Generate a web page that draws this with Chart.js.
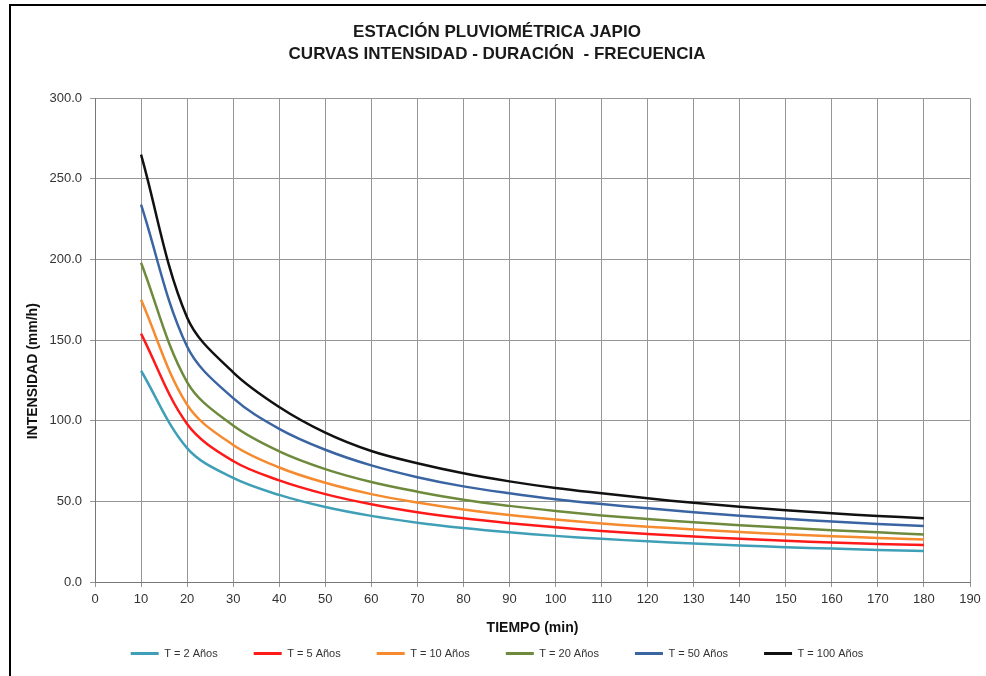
<!DOCTYPE html>
<html>
<head>
<meta charset="utf-8">
<title>Curvas IDF - Japio</title>
<script src="https://cdn.jsdelivr.net/npm/chart.js@4.4.1/dist/chart.umd.min.js"></script>
<style>
  html, body {
    margin: 0;
    padding: 0;
    background: #ffffff;
  }
  .wrap {
    position: relative;
    width: 986px;
    height: 676px;
    overflow: hidden;
  }
  .frame {
    position: absolute;
    left: 9px;
    top: 4px;
    right: -4px;
    bottom: -4px;
    border-left: 2px solid #000;
    border-top: 2px solid #000;
  }
  #idfChart {
    position: absolute;
    left: 0;
    top: 0;
  }
</style>
</head>
<body>
<div class="wrap">
  <div class="frame"></div>
  <canvas id="idfChart" width="986" height="676"></canvas>
</div>
<script>
// duraciones (min)
const durations = [10, 20, 30, 40, 50, 60, 70, 80, 90, 100, 110, 120, 130, 140, 150, 160, 170, 180];

// intensidades (mm/h)
const t2 = [131, 83, 64.5, 54, 46.5, 41, 36.8, 33.5, 30.8, 28.6, 26.8, 25.2, 23.9, 22.7, 21.6, 20.7, 19.9, 19.2];
const t5 = [154, 98, 75, 63, 54.5, 48.2, 43.3, 39.5, 36.5, 33.9, 31.7, 29.8, 28.2, 26.8, 25.6, 24.5, 23.6, 22.9];
const t10 = [175, 110, 85, 71, 61.5, 54.5, 49.3, 45, 41.5, 38.7, 36.3, 34.3, 32.6, 31, 29.6, 28.4, 27.3, 26.4];
const t20 = [198, 124, 97, 81, 70, 62, 56, 51, 47.2, 44, 41.3, 39, 37, 35.2, 33.6, 32.1, 30.8, 29.5];
const t50 = [234, 146, 114, 95, 82, 72.3, 65, 59.3, 55, 51.3, 48.3, 45.7, 43.3, 41.1, 39.2, 37.5, 36, 34.7];
const t100 = [265, 164, 130, 108.5, 92.6, 81.2, 73.6, 67.4, 62.4, 58.3, 55, 51.9, 49.1, 46.7, 44.5, 42.6, 41, 39.5];

const seriesLabels = ['T = 2 Años', 'T = 5 Años', 'T = 10 Años', 'T = 20 Años', 'T = 50 Años', 'T = 100 Años'];
const seriesValues = [t2, t5, t10, t20, t50, t100];
const seriesColors = ['#3E9FB6', '#FF1A1A', '#F58A2E', '#6E8B3D', '#3A64A2', '#111111'];

const xTicks = {min: 0, max: 190, step: 10};
const yTicks = {min: 0, max: 300, step: 50};

const GRID = '#969696';
const FONT = 'Arial, "Liberation Sans", sans-serif';

function toPoints(values) {
  return values.map((v, i) => ({x: durations[i], y: v}));
}

function buildDatasets() {
  return seriesLabels.map((label, i) => ({
    label: label,
    data: toPoints(seriesValues[i]),
    borderColor: seriesColors[i],
    backgroundColor: seriesColors[i],
    borderWidth: 2.5,
    pointRadius: 0,
    tension: 0.35,
    fill: false
  }));
}

const ctx = document.getElementById('idfChart').getContext('2d');

new Chart(ctx, {
  type: 'line',
  data: {
    datasets: buildDatasets()
  },
  options: {
    responsive: false,
    animation: false,
    layout: {
      padding: {left: 24, right: 16, top: 0, bottom: 7}
    },
    plugins: {
      title: {
        display: true,
        text: ['ESTACIÓN PLUVIOMÉTRICA JAPIO', 'CURVAS INTENSIDAD - DURACIÓN  - FRECUENCIA'],
        color: '#1a1a1a',
        font: {family: FONT, size: 17, weight: 'bold', lineHeight: 1.3},
        padding: {top: 21, bottom: 33}
      },
      legend: {
        position: 'bottom',
        labels: {
          boxWidth: 28,
          boxHeight: 3,
          padding: 36,
          color: '#333',
          font: {family: FONT, size: 11},
          generateLabels: function(chart) {
            const items = Chart.defaults.plugins.legend.labels.generateLabels(chart);
            items.forEach(item => {
              item.lineWidth = 0;
            });
            return items;
          }
        }
      },
      tooltip: {enabled: false}
    },
    scales: {
      x: {
        type: 'linear',
        min: xTicks.min,
        max: xTicks.max,
        afterFit: function(scale) {
          scale.height = 30;
        },
        grid: {
          color: GRID,
          lineWidth: 1,
          tickLength: 5
        },
        border: {color: '#777', width: 1},
        ticks: {
          stepSize: xTicks.step,
          color: '#333',
          padding: 5,
          maxRotation: 0,
          font: {family: FONT, size: 13}
        },
        title: {
          display: true,
          text: 'TIEMPO (min)',
          color: '#111',
          font: {family: FONT, size: 14, weight: 'bold'},
          padding: {top: 0, bottom: -25}
        }
      },
      y: {
        min: yTicks.min,
        max: yTicks.max,
        afterFit: function(scale) {
          scale.width = 71;
        },
        grid: {
          color: GRID,
          lineWidth: 1,
          tickLength: 5
        },
        border: {color: '#777', width: 1},
        ticks: {
          stepSize: yTicks.step,
          color: '#333',
          padding: 8,
          font: {family: FONT, size: 13},
          callback: function(value) {
            return Number(value).toFixed(1);
          }
        },
        title: {
          display: true,
          // trailing spaces push the label a bit below the axis centre, like the original
          text: 'INTENSIDAD (mm/h)' + ' '.repeat(16),
          color: '#111',
          font: {family: FONT, size: 14, weight: 'bold'},
          padding: {top: 1, bottom: 0}
        }
      }
    }
  }
});
</script>
</body>
</html>
